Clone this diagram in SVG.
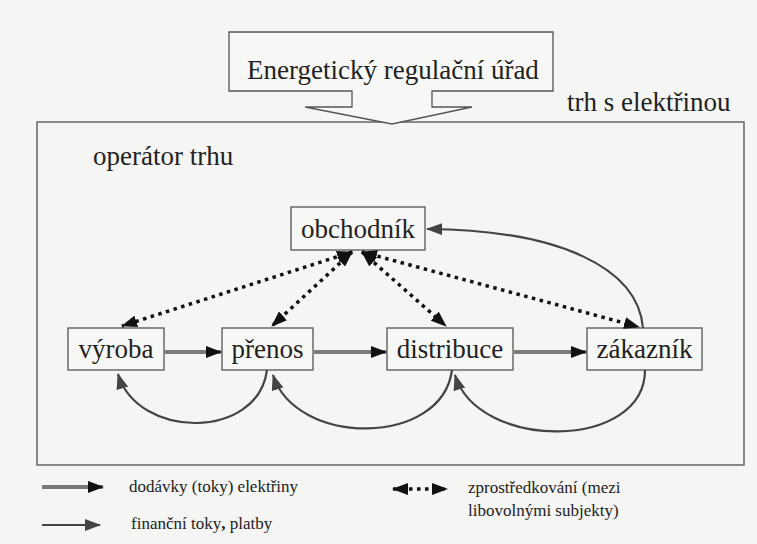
<svg xmlns="http://www.w3.org/2000/svg" width="757" height="544" viewBox="0 0 757 544">
  <style>
    .bg { fill: #f5f5f3; }
    .box { fill: #f7f7f5; stroke: #555; stroke-width: 1.3; }
    .frame { fill: none; stroke: #666; stroke-width: 1.5; }
    .lbl { font-family: 'Liberation Serif', 'Times New Roman', serif; font-size: 27px; fill: #222; }
    .leg { font-family: 'Liberation Serif', 'Times New Roman', serif; font-size: 17px; fill: #222; }
    .power { stroke: #7a7a7a; stroke-width: 4; fill: none; }
    .money { stroke: #444; stroke-width: 2.2; fill: none; marker-end: url(#headGray); }
    .broker { stroke: #111; stroke-width: 3.5; stroke-dasharray: 3.5 4.5; fill: none; }
  </style>
  <defs>
    <marker id="headGray" markerWidth="16" markerHeight="12" refX="15" refY="6" orient="auto" markerUnits="userSpaceOnUse">
      <path d="M0,0 L16,6 L0,12 Z" fill="#444"/>
    </marker>
    <marker id="headBlack" markerWidth="16" markerHeight="12" refX="15" refY="6" orient="auto" markerUnits="userSpaceOnUse">
      <path d="M0,0 L16,6 L0,12 Z" fill="#111"/>
    </marker>
    <marker id="headBlackStart" markerWidth="16" markerHeight="12" refX="1" refY="6" orient="auto" markerUnits="userSpaceOnUse">
      <path d="M16,0 L0,6 L16,12 Z" fill="#111"/>
    </marker>
  </defs>

  <rect class="bg" x="0" y="0" width="757" height="544"/>

  <!-- market frame -->
  <g id="market">
    <rect class="frame" x="37" y="122" width="707" height="343"/>
    <text class="lbl" x="567" y="111">trh s elektřinou</text>
    <text class="lbl" x="93" y="165">operátor trhu</text>
  </g>

  <!-- regulator with downward arrow outline -->
  <g id="regulator">
    <polygon class="box" points="229,32 553,32 553,91 432,91 432,107 472,107 392,124 305,107 352,107 352,91 229,91"/>
    <text class="lbl" x="247" y="79">Energetický regulační úřad</text>
  </g>

  <g id="obchodnik">
    <rect class="box" x="291" y="207" width="134" height="43"/>
    <text class="lbl" x="358" y="238" text-anchor="middle">obchodník</text>
  </g>
  <g id="vyroba">
    <rect class="box" x="68" y="328" width="96" height="42"/>
    <text class="lbl" x="116" y="358" text-anchor="middle">výroba</text>
  </g>
  <g id="prenos">
    <rect class="box" x="222" y="328" width="91" height="42"/>
    <text class="lbl" x="267.5" y="358" text-anchor="middle">přenos</text>
  </g>
  <g id="distribuce">
    <rect class="box" x="387" y="328" width="126" height="42"/>
    <text class="lbl" x="450" y="358" text-anchor="middle">distribuce</text>
  </g>
  <g id="zakaznik">
    <rect class="box" x="587" y="328" width="115" height="42"/>
    <text class="lbl" x="644.5" y="358" text-anchor="middle">zákazník</text>
  </g>

  <!-- connectors -->
  <g id="connectors">
    <!-- electricity supply -->
    <line class="power" x1="165" y1="352" x2="221" y2="352" marker-end="url(#headBlack)"/>
    <line class="power" x1="314" y1="352" x2="386" y2="352" marker-end="url(#headBlack)"/>
    <line class="power" x1="514" y1="352" x2="586" y2="352" marker-end="url(#headBlack)"/>

    <!-- financial flows -->
    <path class="money" d="M267,370 C258,440 138,440 118,374"/>
    <path class="money" d="M452,370 C442,447 296,447 273,375"/>
    <path class="money" d="M645,370 C645,451 478,451 455,375"/>
    <path class="money" d="M643,328 C638,268 560,230 427,229"/>

    <!-- brokerage -->
    <line class="broker" x1="352" y1="252" x2="122" y2="326" marker-start="url(#headBlackStart)" marker-end="url(#headBlack)"/>
    <line class="broker" x1="352" y1="252" x2="272" y2="326" marker-start="url(#headBlackStart)" marker-end="url(#headBlack)"/>
    <line class="broker" x1="362" y1="252" x2="446" y2="326" marker-start="url(#headBlackStart)" marker-end="url(#headBlack)"/>
    <line class="broker" x1="362" y1="252" x2="639" y2="327" marker-start="url(#headBlackStart)" marker-end="url(#headBlack)"/>
  </g>

  <!-- legend -->
  <g id="legend">
    <line class="power" x1="42" y1="487" x2="103" y2="487" marker-end="url(#headBlack)"/>
    <text class="leg" x="129" y="492">dodávky (toky) elektřiny</text>
    <line class="money" x1="42" y1="525" x2="100" y2="525"/>
    <text class="leg" x="131" y="529">finanční toky<tspan font-weight="bold">,</tspan> platby</text>
    <line class="broker" x1="393" y1="489" x2="447" y2="489" marker-start="url(#headBlackStart)" marker-end="url(#headBlack)"/>
    <text class="leg" x="468" y="493">zprostředkování (mezi</text>
    <text class="leg" x="468" y="516">libovolnými subjekty)</text>
  </g>
</svg>
